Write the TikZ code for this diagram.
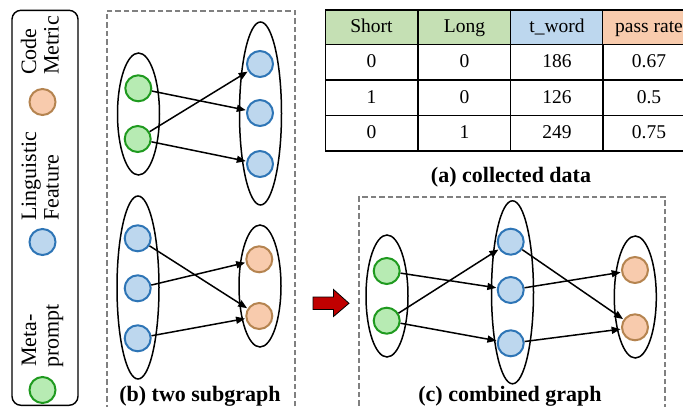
\documentclass[tikz,border=0pt]{standalone}
\usepackage{fontspec}
\setmainfont{Liberation Serif}
\usetikzlibrary{shapes.geometric,arrows.meta}
\definecolor{gfill}{HTML}{B7EBB3}
\definecolor{gline}{HTML}{1F9A1F}
\definecolor{bfill}{HTML}{BDD7EE}
\definecolor{bline}{HTML}{2E75B6}
\definecolor{ofill}{HTML}{F8CBAD}
\definecolor{oline}{HTML}{B58450}
\definecolor{hgreen}{HTML}{C5E0B4}
\definecolor{hblue}{HTML}{BDD7EE}
\definecolor{horange}{HTML}{F8CBAD}
\definecolor{dashgrey}{HTML}{808080}
\definecolor{redarrow}{HTML}{C00000}
\tikzset{
  gnode/.style={circle, draw=gline, fill=gfill, line width=2pt, minimum size=26pt, inner sep=0pt},
  bnode/.style={circle, draw=bline, fill=bfill, line width=2pt, minimum size=26pt, inner sep=0pt},
  onode/.style={circle, draw=oline, fill=ofill, line width=2pt, minimum size=26pt, inner sep=0pt},
  grp/.style={ellipse, draw=black, line width=1.5pt, inner sep=0pt, minimum width=42pt},
  arr/.style={line width=1.5pt, -{Triangle[length=9pt,width=7pt]}, shorten >=0.5pt},
  dashbox/.style={draw=dashgrey, line width=1.8pt, dash pattern=on 5.5pt off 3pt},
  cell/.style={draw=black, line width=1.4pt, minimum width=92.5pt, inner sep=0pt, text height=14pt, text depth=3.5pt, font=\fontsize{19.5}{22}\selectfont},
  legtxt/.style={rotate=90, anchor=base west, inner sep=0pt, font=\fontsize{22}{24}\selectfont},
  captxt/.style={anchor=base, inner sep=0pt, font=\fontsize{22}{24}\selectfont\bfseries},
}
\begin{document}
\begin{tikzpicture}[x=1pt,y=-1pt]
\useasboundingbox (0,0) rectangle (683,407);
\clip (0,0) rectangle (683,407);

% legend
\node[draw=black, line width=1.4pt, rounded corners=9pt, minimum width=66pt, minimum height=395pt, inner sep=0pt] (legend) at (45,207.8) {};
\node[onode] (lo) at (42.5,102) {};
\node[bnode] (lb) at (42.5,242) {};
\node[gnode] (lg) at (42.5,390) {};
\node[legtxt] (t1) at (36,75) {Code};
\node[legtxt] (t2) at (58.5,75) {Metric};
\node[legtxt] (t3) at (36,221) {Linguistic};
\node[legtxt] (t4) at (58.5,221) {Feature};
\node[legtxt] (t5) at (36,367) {Meta-};
\node[legtxt] (t6) at (58.5,368) {prompt};

% (b) two subgraph
\node[dashbox, minimum width=188pt, minimum height=420pt, inner sep=0pt, anchor=north west] (boxb) at (106,10) {};
\node[grp, minimum height=122pt] (L1) at (138.5,114) {};
\node[grp, minimum height=183pt] (R1) at (260.5,113.5) {};
\node[gnode] (g1) at (138.3,88.3) {};
\node[gnode] (g2) at (137.7,139) {};
\node[bnode] (b1) at (260,64) {};
\node[bnode] (b2) at (260,113) {};
\node[bnode] (b3) at (260,164) {};
\draw[arr] (g1) -- (b2);
\draw[arr] (g2) -- (b1);
\draw[arr] (g2) -- (b3);

\node[grp, minimum height=183pt] (L2) at (138,287.5) {};
\node[grp, minimum height=122pt] (R2) at (260,286) {};
\node[bnode] (b4) at (137.7,238.3) {};
\node[bnode] (b5) at (137.7,288.3) {};
\node[bnode] (b6) at (137.7,338.3) {};
\node[onode] (o1) at (259.3,259.3) {};
\node[onode] (o2) at (259.3,316) {};
\draw[arr] (b4) -- (o2);
\draw[arr] (b5) -- (o1);
\draw[arr] (b6) -- (o2);
\node[captxt] (capb) at (200,401) {(b) two subgraph};

% red arrow
\draw[fill=redarrow, draw=black, line width=0.8pt] (313,297) -- (333.5,297) -- (333.5,289.5) -- (349,303.3) -- (333.5,316.5) -- (333.5,309.5) -- (313,309.5) -- cycle;

% (a) table
\foreach \c/\x/\t/\f in {1/371.5/Short/hgreen, 2/464.5/Long/hgreen, 3/557/t\_word/hblue, 4/649/pass rate/horange}{
  \node[cell, fill=\f, minimum height=34.5pt] (h\c) at (\x,27.25) {\t};
}
\foreach \r/\y/\a/\b/\cc/\d in {1/62.25/0/0/186/0.67, 2/97.75/1/0/126/0.5, 3/133.25/0/1/249/0.75}{
  \node[cell, minimum height=35.5pt] (r\r a) at (371.5,\y) {\a};
  \node[cell, minimum height=35.5pt] (r\r b) at (464.5,\y) {\b};
  \node[cell, minimum height=35.5pt] (r\r c) at (557,\y) {\cc};
  \node[cell, minimum height=35.5pt] (r\r d) at (649,\y) {\d};
}
\node[captxt] (capa) at (511,182) {(a) collected data};

% (c) combined graph
\node[dashbox, minimum width=306pt, minimum height=230pt, inner sep=0pt, anchor=north west] (boxc) at (358,196) {};
\node[grp, minimum height=122pt] (L3) at (387,296) {};
\node[grp, minimum height=183pt] (M3) at (512.5,292.3) {};
\node[grp, minimum height=122pt] (R3) at (635.3,297) {};
\node[gnode] (g3) at (386.7,271) {};
\node[gnode] (g4) at (386.7,320.7) {};
\node[bnode] (b7) at (510.7,241.7) {};
\node[bnode] (b8) at (510.7,290) {};
\node[bnode] (b9) at (510.7,343.3) {};
\node[onode] (o3) at (635,270) {};
\node[onode] (o4) at (635,327.3) {};
\draw[arr] (g3) -- (b8);
\draw[arr] (g4) -- (b7);
\draw[arr] (g4) -- (b9);
\draw[arr] (b7) -- (o4);
\draw[arr] (b8) -- (o3);
\draw[arr] (b9) -- (o4);
\node[captxt] (capc) at (510,401) {(c) combined graph};
\end{tikzpicture}
\end{document}
